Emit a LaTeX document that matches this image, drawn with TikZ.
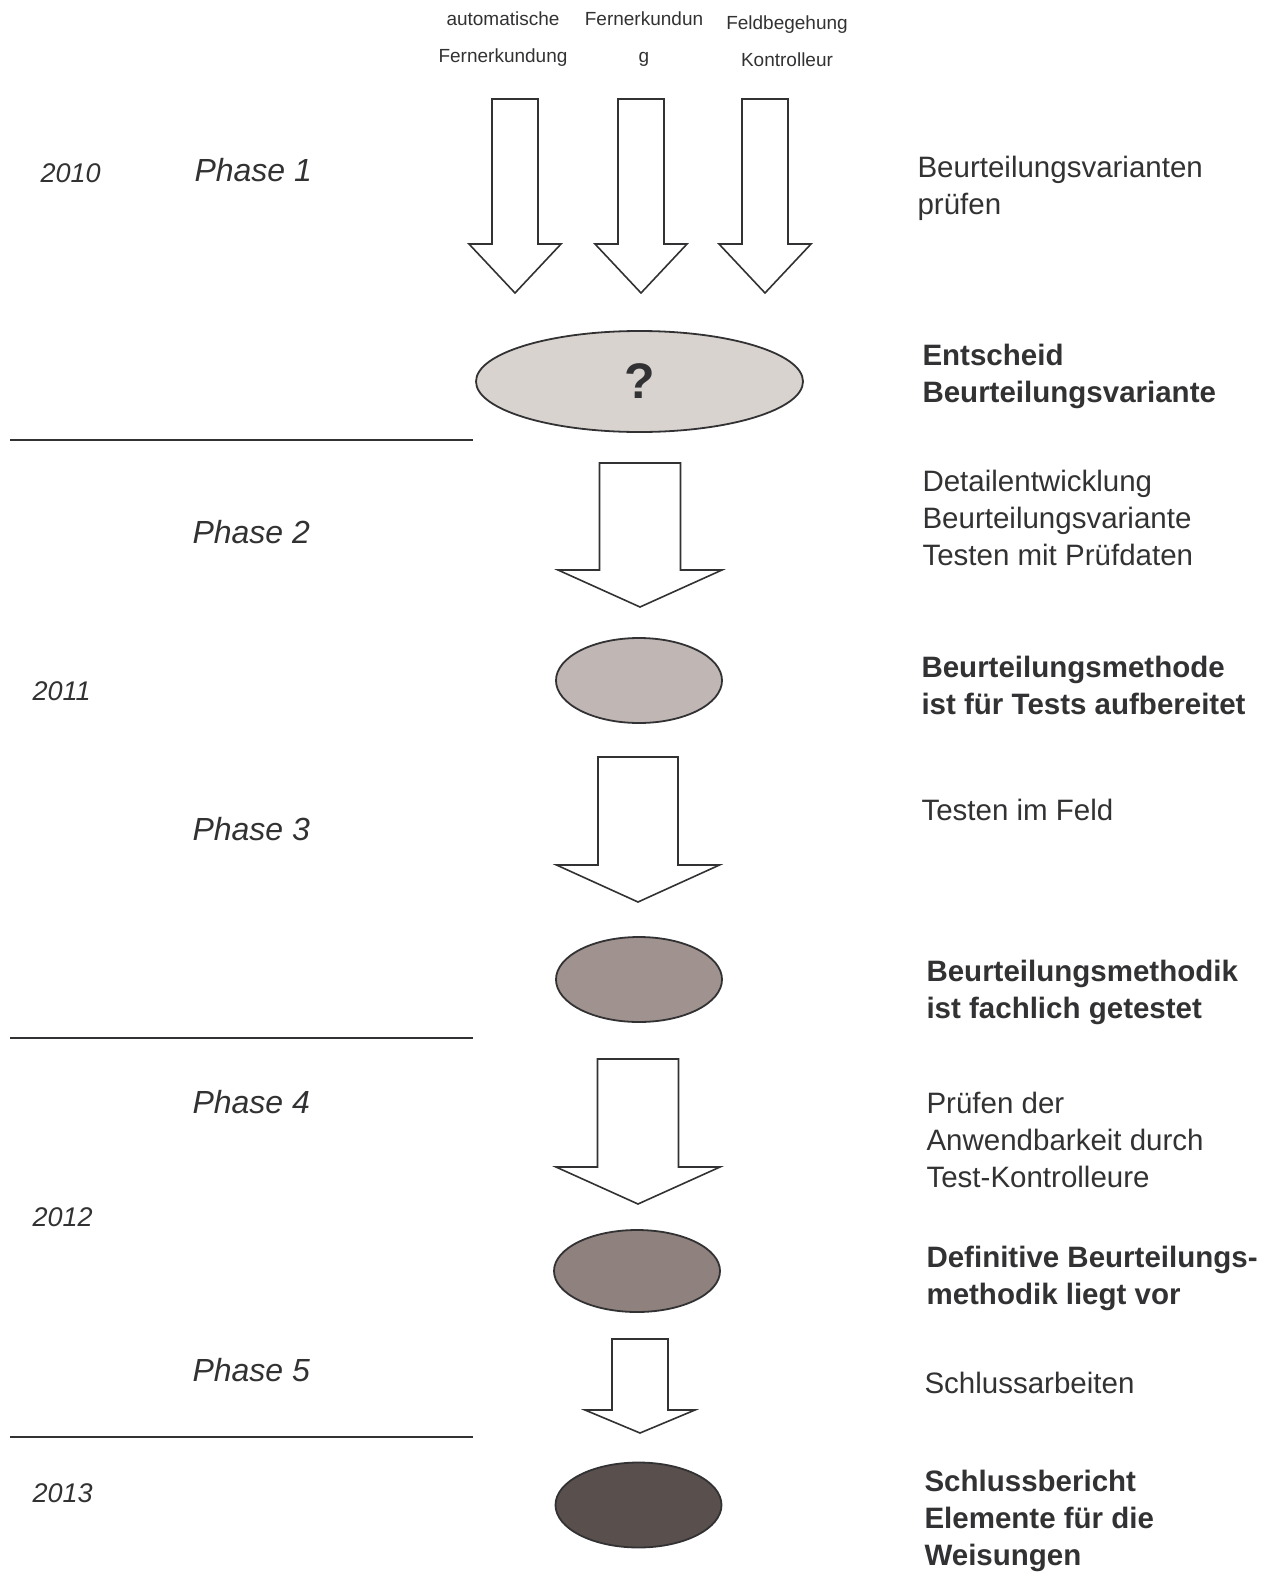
\documentclass[tikz,border=0pt]{standalone}
\usepackage{fontspec}
\setmainfont{Liberation Sans}
\usetikzlibrary{shapes.geometric}

\definecolor{ink}{RGB}{50,50,52}
\definecolor{stageA}{RGB}{217,211,208}
\definecolor{stageB}{RGB}{192,183,181}
\definecolor{stageC}{RGB}{160,146,142}
\definecolor{stageD}{RGB}{143,129,125}
\definecolor{stageE}{RGB}{89,79,77}

\tikzset{
  arrowline/.style={draw=ink, line width=1.6pt, fill=white, line join=miter},
  stage/.style={ellipse, draw=ink, line width=1.8pt, inner sep=0pt,
                minimum width=166pt, minimum height=85pt},
  toplabel/.style={text=ink, align=center, font=\fontsize{19}{37}\selectfont},
  phase/.style={text=ink, anchor=west, font=\fontsize{32}{38}\selectfont\itshape},
  year/.style={text=ink, anchor=west, font=\fontsize{27}{32}\selectfont\itshape},
  task/.style={text=ink, anchor=west, align=left, font=\fontsize{29.5}{37}\selectfont},
  result/.style={task, font=\fontsize{29.5}{37}\selectfont\bfseries},
  divider/.style={draw=ink, line width=1.8pt}
}

% block arrow: x, top, shoulder, tip, half shaft, half head
\newcommand{\blockarrow}[6]{%
  \draw[arrowline] (#1-#5,#2) -- (#1+#5,#2) -- (#1+#5,#3) -- (#1+#6,#3)
    -- (#1,#4) -- (#1-#6,#3) -- (#1-#5,#3) -- cycle;}

\begin{document}
\begin{tikzpicture}[x=1pt, y=-1pt]
    \useasboundingbox (0,0) rectangle (1270,1574);
    % Below nodes are the three sources.
        \node[toplabel] (srcA) at (503,39) {automatische\\Fernerkundung};
        \node[toplabel] (srcB) at (644,39) {Fernerkundun\\g};
        \node[toplabel] (srcC) at (787,41) {Feldbegehung\\Kontrolleur};
    % The arrows.
        \blockarrow{515}{99}{244}{293}{23}{46}
        \blockarrow{641}{99}{244}{293}{23}{46}
        \blockarrow{765}{99}{244}{293}{23}{46}
        \blockarrow{640}{463}{570}{607}{40.5}{82}
        \blockarrow{638}{757}{865}{902}{40}{81.5}
        \blockarrow{638}{1059}{1167}{1204}{40.5}{82}
        \blockarrow{640}{1339}{1410}{1433}{28}{55}
    % The milestones.
        \node[stage, fill=stageA, minimum width=327pt, minimum height=101pt,
              text=ink, font=\fontsize{50}{50}\selectfont\bfseries] (decide) at (639.5,381.5) {?};
        \node[stage, fill=stageB] (prepared) at (639,680.5) {};
        \node[stage, fill=stageC] (tested) at (639,979.5) {};
        \node[stage, fill=stageD, minimum height=82pt] (final) at (637,1271) {};
        \node[stage, fill=stageE] (report) at (638.5,1505) {};
    % The dividing lines.
        \draw[divider] (10,440) -- (473,440);
        \draw[divider] (10,1038) -- (473,1038);
        \draw[divider] (10,1437) -- (473,1437);
    % Left column: years and phases.
        \node[year] (y2010) at (37,173) {2010};
        \node[year] (y2011) at (29,691) {2011};
        \node[year] (y2012) at (29,1217) {2012};
        \node[year] (y2013) at (29,1493) {2013};
        \node[phase] (ph1) at (191,170) {Phase 1};
        \node[phase] (ph2) at (189,532) {Phase 2};
        \node[phase] (ph3) at (189,829) {Phase 3};
        \node[phase] (ph4) at (189,1102) {Phase 4};
        \node[phase] (ph5) at (189,1370) {Phase 5};
    % Right column: tasks and results.
        \node[task] (t1) at (914,188.5) {Beurteilungsvarianten\\prüfen};
        \node[result] (r1) at (919,376.5) {Entscheid\\Beurteilungsvariante};
        \node[task] (t2) at (919,518) {Detailentwicklung\\Beurteilungsvariante\\Testen mit Prüfdaten};
        \node[result] (r2) at (918,685) {Beurteilungsmethode\\ist für Tests aufbereitet};
        \node[task] (t3) at (918,810) {Testen im Feld};
        \node[result] (r3) at (923,992.5) {Beurteilungsmethodik\\ist fachlich getestet};
        \node[task] (t4) at (923,1140) {Prüfen der\\Anwendbarkeit durch\\Test-Kontrolleure};
        \node[result] (r4) at (923,1278.5) {Definitive Beurteilungs-\\methodik liegt vor};
        \node[task] (t5) at (921,1383) {Schlussarbeiten};
        \node[result] (r5) at (921,1521) {Schlussbericht\\Elemente für die\\Weisungen};
\end{tikzpicture}
\end{document}
